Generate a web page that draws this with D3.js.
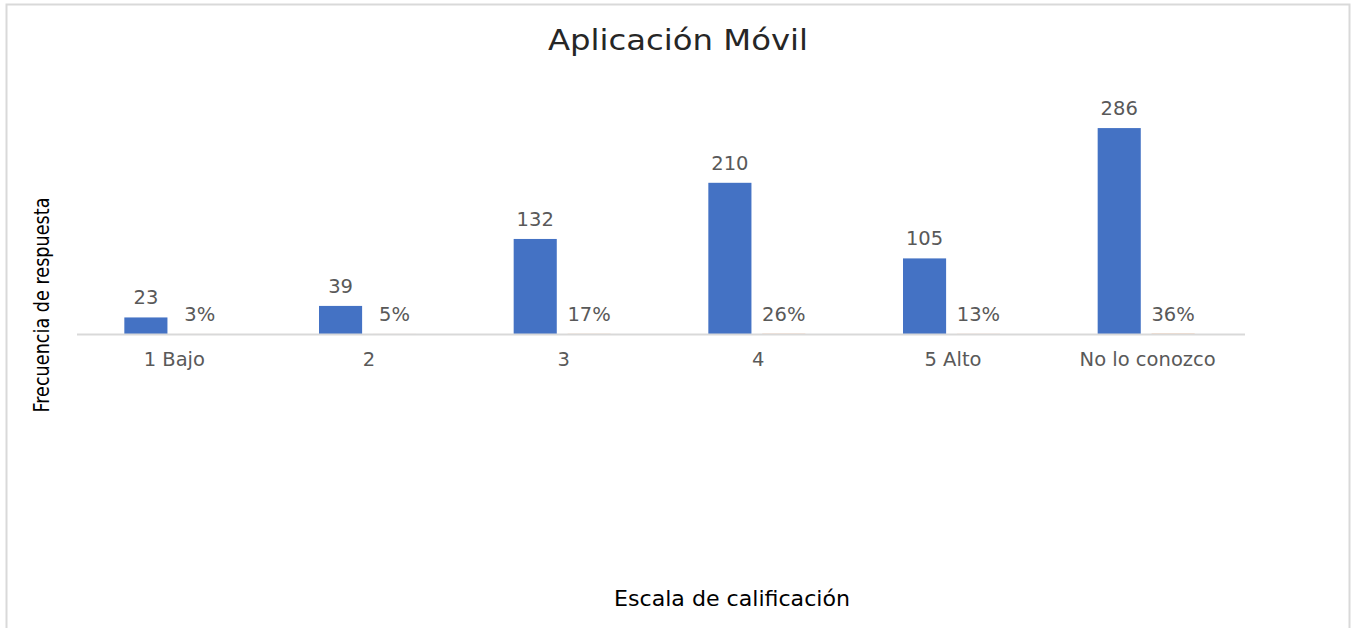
<!DOCTYPE html>
<html>
<head>
<meta charset="utf-8">
<script src="https://cdn.jsdelivr.net/npm/d3@7"></script>
<style>
  body { margin: 0; background: #fff; }
</style>
</head>
<body>
<div id="chart"></div>
<script>
// data
const categories = ["1 Bajo", "2", "3", "4", "5 Alto", "No lo conozco"];
const frecuencia = [23, 39, 132, 210, 105, 286];
const porcentaje = [0.03, 0.05, 0.17, 0.26, 0.13, 0.36];
const pctLabels = ["3%", "5%", "17%", "26%", "13%", "36%"];

const W = 1352, H = 628;
const plot = { left: 77, right: 1245, top: 82, bottom: 334 };

const svg = d3.select("#chart").append("svg")
    .attr("width", W)
    .attr("height", H);

// chart frame
svg.append("rect")
    .attr("x", 6.5).attr("y", 4.5)
    .attr("width", 1343).attr("height", 640)
    .attr("fill", "#fff")
    .attr("stroke", "#d9d9d9")
    .attr("stroke-width", 2);

let x = d3.scaleBand()
    .domain(categories)
    .range([plot.left, plot.right]);

// two series side by side within each category
let inner = d3.scaleBand()
    .domain(["freq", "pct"])
    .range([-50, 47])
    .paddingInner(0.2);

let y = d3.scaleLinear()
    .domain([0, 350])
    .range([plot.bottom, plot.top]);

const labelFont = "'DejaVu Sans', Verdana, sans-serif";
const labelSize = "19.5px";

// frequency bars
svg.selectAll(".bar-freq")
    .data(frecuencia)
    .enter()
    .append("rect")
    .attr("class", "bar-freq")
    .attr("x", (d, i) => x(categories[i]) + x.bandwidth() / 2 + inner("freq"))
    .attr("y", d => y(d))
    .attr("width", inner.bandwidth())
    .attr("height", d => y(0) - y(d))
    .attr("fill", "#4472c4");

// percentage bars (share the same axis, so they are almost flat)
svg.selectAll(".bar-pct")
    .data(porcentaje)
    .enter()
    .append("rect")
    .attr("class", "bar-pct")
    .attr("x", (d, i) => x(categories[i]) + x.bandwidth() / 2 + inner("pct"))
    .attr("y", d => y(d))
    .attr("width", inner.bandwidth())
    .attr("height", d => y(0) - y(d))
    .attr("fill", "#ed7d31");

// x axis line (drawn on top, hides the flat bars)
svg.append("line")
    .attr("x1", plot.left).attr("x2", plot.right)
    .attr("y1", y(0) + 0.5).attr("y2", y(0) + 0.5)
    .attr("stroke", "#d9d9d9")
    .attr("stroke-width", 2);

// value labels
svg.selectAll(".lbl-freq")
    .data(frecuencia)
    .enter()
    .append("text")
    .attr("class", "lbl-freq")
    .attr("text-anchor", "middle")
    .attr("x", (d, i) => x(categories[i]) + x.bandwidth() / 2 + inner("freq") + inner.bandwidth() / 2)
    .attr("y", d => y(d) - 13)
    .style("font-family", labelFont)
    .style("font-size", labelSize)
    .style("fill", "#595959")
    .text(d => d);

svg.selectAll(".lbl-pct")
    .data(porcentaje)
    .enter()
    .append("text")
    .attr("class", "lbl-pct")
    .attr("text-anchor", "middle")
    .attr("x", (d, i) => x(categories[i]) + x.bandwidth() / 2 + inner("pct") + inner.bandwidth() / 2)
    .attr("y", d => y(d) - 13)
    .style("font-family", labelFont)
    .style("font-size", labelSize)
    .style("fill", "#595959")
    .text((d, i) => pctLabels[i]);

// category labels
svg.selectAll(".cat")
    .data(categories)
    .enter()
    .append("text")
    .attr("class", "cat")
    .attr("text-anchor", "middle")
    .attr("x", d => x(d) + x.bandwidth() / 2)
    .attr("y", 366)
    .style("font-family", labelFont)
    .style("font-size", labelSize)
    .style("fill", "#595959")
    .text(d => d);

// title
svg.append("text")
    .attr("x", 678)
    .attr("y", 50)
    .attr("text-anchor", "middle")
    .attr("textLength", 260)
    .attr("lengthAdjust", "spacingAndGlyphs")
    .style("font-family", labelFont)
    .style("font-size", "28px")
    .style("fill", "#262626")
    .text("Aplicación Móvil");

// axis titles
const narrowFont = "'Liberation Sans Narrow', 'DejaVu Sans Condensed', 'Open Sans', sans-serif";
svg.append("text")
    .attr("transform", "translate(49,305) rotate(-90)")
    .attr("text-anchor", "middle")
    .attr("textLength", 215)
    .attr("lengthAdjust", "spacingAndGlyphs")
    .style("font-family", narrowFont)
    .style("font-size", "22px")
    .style("fill", "#000")
    .text("Frecuencia de respuesta");

svg.append("text")
    .attr("x", 732)
    .attr("y", 606)
    .attr("text-anchor", "middle")
    .attr("textLength", 236)
    .attr("lengthAdjust", "spacingAndGlyphs")
    .style("font-family", narrowFont)
    .style("font-size", "22px")
    .style("fill", "#000")
    .text("Escala de calificación");
</script>
</body>
</html>
